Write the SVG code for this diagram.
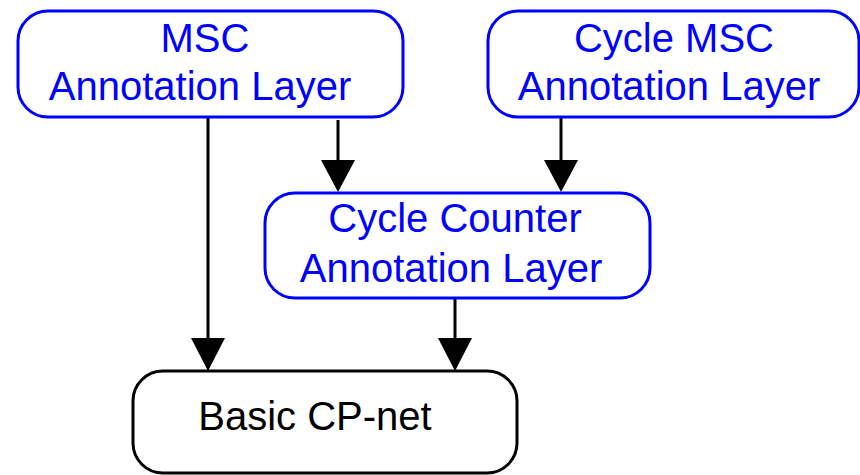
<svg xmlns="http://www.w3.org/2000/svg" width="860" height="475" viewBox="0 0 860 475">
  <style>
    .layer { fill: #ffffff; stroke: #0000ff; stroke-width: 3; }
    .base { fill: #ffffff; stroke: #000000; stroke-width: 3; }
    .lbl { font-family: "Liberation Sans", Arial, sans-serif; font-size: 40px; text-anchor: middle; }
    .blue { fill: #0000ff; }
    .black { fill: #000000; }
    .edge { stroke: #000000; stroke-width: 3; fill: none; }
    .head { fill: #000000; }
  </style>
  <rect width="860" height="475" fill="#ffffff"/>

  <g id="connectors">
    <line class="edge" x1="208" y1="117" x2="208" y2="342"/>
    <polygon class="head" points="191,338 225,338 208,371"/>
    <line class="edge" x1="338" y1="120" x2="338" y2="164"/>
    <polygon class="head" points="321,160 355,160 338,192"/>
    <line class="edge" x1="561" y1="117" x2="561" y2="164"/>
    <polygon class="head" points="544,160 578,160 561,192"/>
    <line class="edge" x1="455" y1="298" x2="455" y2="342"/>
    <polygon class="head" points="438,338 472,338 455,371"/>
  </g>

  <g id="msc">
    <rect class="layer" x="18" y="11" width="385" height="106" rx="30" ry="30"/>
    <text class="lbl blue" x="205" y="52">MSC</text>
    <text class="lbl blue" x="200" y="100">Annotation Layer</text>
  </g>

  <g id="cycle-msc">
    <rect class="layer" x="488" y="11" width="371" height="106" rx="30" ry="30"/>
    <text class="lbl blue" x="674" y="52">Cycle MSC</text>
    <text class="lbl blue" x="669" y="100">Annotation Layer</text>
  </g>

  <g id="cycle-counter">
    <rect class="layer" x="265" y="193" width="385" height="105" rx="30" ry="30"/>
    <text class="lbl blue" x="455" y="232">Cycle Counter</text>
    <text class="lbl blue" x="451" y="282">Annotation Layer</text>
  </g>

  <g id="basic-cpnet">
    <rect class="base" x="133" y="371" width="384" height="102" rx="30" ry="30"/>
    <text class="lbl black" x="315" y="430">Basic CP-net</text>
  </g>
</svg>
